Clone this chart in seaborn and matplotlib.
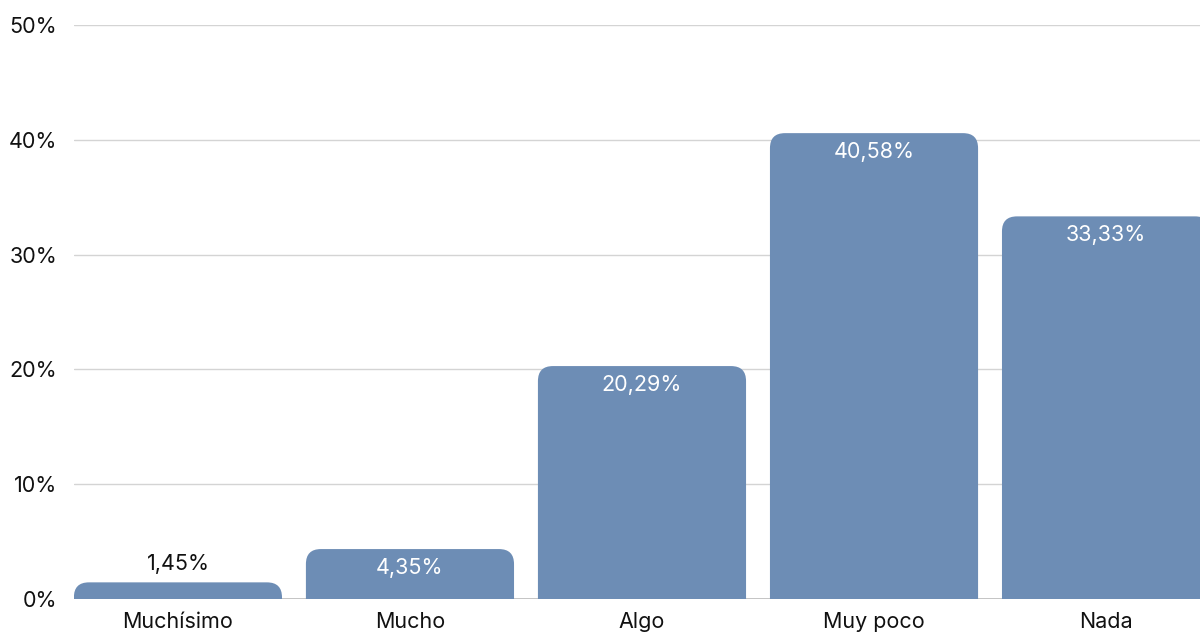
"""
Bar chart of answers (percent) with rounded bar tops.
"""

import pandas as pd
import matplotlib
matplotlib.use('Agg')
import matplotlib.pyplot as plt
import seaborn as sns
from matplotlib.patches import FancyBboxPatch

categories = ['Muchísimo', 'Mucho', 'Algo', 'Muy poco', 'Nada']
values = [1.45, 4.35, 20.29, 40.58, 33.33]
yticks = [0, 10, 20, 30, 40, 50]

BAR_COLOR = '#6d8db5'
GRID_COLOR = '#d4d4d4'
FS = 15.5

sns.set_style('white')
plt.rcParams['font.family'] = ['Inter', 'DejaVu Sans']

df = pd.DataFrame({'cat': categories, 'val': values})

fig = plt.figure(figsize=(12, 6.32), dpi=100)
ax = fig.add_axes([74 / 1200, 33 / 632, 1 - 74 / 1200, (599 - 25) / 632])

sns.barplot(data=df, x='cat', y='val', color=BAR_COLOR, saturation=1,
            width=0.897, ax=ax)

ax.set_xlim(-0.448, 4.405)
ax.set_ylim(0, 50)
ax.set_yticks(yticks)
ax.set_yticklabels([f'{t}%' for t in yticks])
ax.set_xlabel('')
ax.set_ylabel('')
ax.tick_params(axis='both', length=0, labelsize=FS, colors='#111111')
ax.tick_params(axis='y', pad=12)
ax.tick_params(axis='x', pad=9)
ax.yaxis.grid(True, color=GRID_COLOR, linewidth=1)
ax.set_axisbelow(True)
for s in ax.spines.values():
    s.set_visible(False)
ax.axhline(0, color='#bbbbbb', linewidth=2, zorder=0)

# rounded top corners: radius in pixels converted into data units
px_x = 1126 / (4.405 + 0.448)
px_y = 574 / 50
radius = 15
rx = radius / px_x
ry = radius / px_y

bars = list(ax.patches)
for bar in bars:
    x0, w, h = bar.get_x(), bar.get_width(), bar.get_height()
    bar.remove()
    rounded = FancyBboxPatch((x0, -ry), w, h + ry,
                             boxstyle=f'round,pad=0,rounding_size={rx}',
                             mutation_aspect=ry / rx,
                             facecolor=BAR_COLOR, edgecolor='none', zorder=2)
    ax.add_patch(rounded)

for i, v in enumerate(values):
    label = f'{v:.2f}'.replace('.', ',') + '%'
    if v < 3:
        ax.annotate(label, (i, v), xytext=(0, 18), textcoords='offset pixels',
                    ha='center', va='center', fontsize=FS, color='#111111')
    else:
        ax.annotate(label, (i, v), xytext=(0, -19), textcoords='offset pixels',
                    ha='center', va='center', fontsize=FS, color='white')

fig.savefig('out.png', dpi=100)
